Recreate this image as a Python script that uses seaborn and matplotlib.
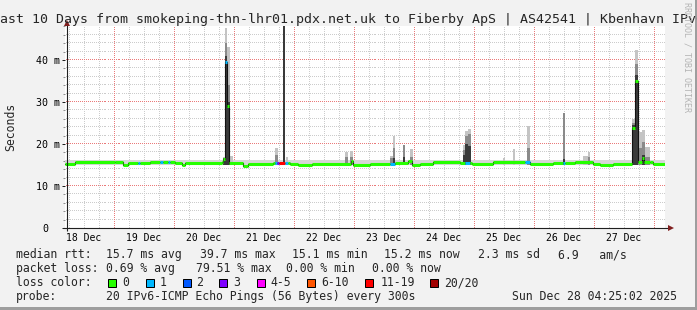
import numpy as np
import matplotlib
matplotlib.use("Agg")
import matplotlib.pyplot as plt
from matplotlib.ticker import MultipleLocator
from matplotlib.patches import Rectangle
from matplotlib.transforms import blended_transform_factory, ScaledTranslation
import seaborn as sns

# ---------------- data (time = hours since 18 Dec 00:00) ----------------
t_start = 4.417      # 18 Dec 04:25
t_end = 244.417      # 28 Dec 04:25
day_noon = [12, 36, 60, 84, 108, 132, 156, 180, 204, 228]
day_labels = ["18 Dec", "19 Dec", "20 Dec", "21 Dec", "22 Dec",
              "23 Dec", "24 Dec", "25 Dec", "26 Dec", "27 Dec"]

# median rtt (ms), step values starting at each time
median_t = [4.4, 8.4, 24.4, 27.6, 29.6, 38.4, 48.4, 51.2, 52.4, 67.2, 67.6,
            68.4, 69.4, 70.2, 75.6, 77.6, 87.6, 94.4, 97.6, 103.2, 118.8,
            119.6, 126.4, 136.4, 141.6, 143.2, 146.4, 151.6, 162.4, 167.2,
            175.6, 190.4, 199.6, 208.4, 215.6, 218.4, 223.6, 231.4, 232.4,
            233.6, 235.2, 236.2, 238.4, 239.6]
median_v = [15.2, 15.7, 15.6, 15.0, 15.5, 15.6, 15.4, 15.0, 15.4, 15.6, 16.4,
            39.5, 29.0, 15.4, 14.8, 15.3, 15.5, 15.3, 15.0, 15.3, 15.9,
            15.1, 15.3, 15.4, 16.0, 15.1, 15.2, 15.6, 15.4, 15.2,
            15.6, 15.2, 15.4, 15.7, 15.3, 15.0, 15.2, 23.8, 35.1,
            15.6, 16.6, 15.6, 15.8, 15.2]

# packet-loss runs (index into loss colours); everything else is 0
loss_t0 = [33.6, 42.4, 45.6, 68.4, 88.4, 89.4, 90.2, 92.6, 134.4, 164.4, 188.4, 203.6]
loss_t1 = [34.4, 43.6, 46.4, 69.4, 89.4, 90.2, 92.6, 93.6, 136.4, 166.4, 190.4, 204.4]
loss_lv = [1, 1, 1, 1, 1, 3, 6, 1, 1, 1, 1, 1]

# smoke (ping spread): baseline band and spikes
smoke_floor = 15.0
smoke_base_top = 16.2
spike_t0 = [67.6, 68.4, 69.4, 70.4, 88.4, 91.6, 92.8, 116.4, 118.4, 134.4,
            135.6, 139.6, 142.4, 163.6, 164.4, 165.6, 179.6, 183.6, 189.2,
            203.6, 211.6, 213.6, 231.4, 232.4, 233.6, 235.2, 236.4]
spike_t1 = [68.4, 69.4, 70.4, 71.6, 89.6, 92.6, 93.6, 117.6, 119.6, 135.6,
            136.6, 140.4, 143.6, 164.4, 165.6, 166.8, 180.4, 184.4, 190.4,
            204.4, 213.6, 214.4, 232.4, 233.6, 235.2, 236.4, 238.4]
spike_top = [17.0, 47.6, 43.0, 17.2, 19.0, 50.0, 16.8, 18.2, 18.4, 17.2,
             21.9, 19.8, 18.9, 19.8, 23.1, 23.6, 16.6, 18.8, 24.3,
             27.5, 17.1, 18.2, 26.0, 42.4, 22.9, 23.3, 19.4]
spike_mid = [0, 44.0, 34.0, 0, 17.5, 0, 0, 16.8, 17.0, 16.6,
             19.0, 19.8, 17.0, 18.5, 22.0, 22.5, 0, 0, 19.0,
             27.5, 0, 16.8, 25.0, 39.0, 19.0, 20.5, 17.0]
spike_core = [16.6, 41.0, 30.0, 0, 0, 50.0, 0, 0, 0, 0,
              16.6, 17.0, 0, 17.5, 20.0, 19.5, 0, 0, 0,
              16.5, 0, 0, 24.5, 36.5, 0, 17.5, 0]

loss_colors = ["#26ff00", "#00b8ff", "#0059ff", "#7e00ff",
               "#ff00ff", "#ff5500", "#ff0000", "#a10000"]
loss_names = ["0", "1", "2", "3", "4-5", "6-10", "11-19", "20/20"]

title = ("Last 10 Days from smokeping-thn-lhr01.pdx.net.uk to Fiberby ApS | "
         "AS42541 | Kbenhavn IPv6")
ytick_vals = [0, 10, 20, 30, 40]
ytick_text = ["0", "10 m", "20 m", "30 m", "40 m"]

row1 = ["median rtt:", "15.7 ms avg", "39.7 ms max", "15.1 ms min",
        "15.2 ms now", "2.3 ms sd", "6.9   am/s"]
row2 = ["packet loss:", "0.69 % avg", "79.51 % max", "0.00 % min", "0.00 % now"]
row4 = ["probe:", "20 IPv6-ICMP Echo Pings (56 Bytes) every 300s",
        "Sun Dec 28 04:25:02 2025"]

# ---------------- layout constants (pixels) ----------------
W, H = 697, 310
row1_x = [15.5, 106.5, 199.5, 292.5, 384.5, 478.5, 557.5]
row2_x = [15.5, 106.5, 196.5, 285.5, 371.5]
row4_x = [15.5, 106.5, 512.5]
sq_x = [108, 146, 183, 219, 257, 307, 365, 430]
lab_x = [122.5, 159.5, 196.5, 233.5, 270.5, 321.5, 380.5, 444.5]

sns.set_theme(style="white")
plt.rcParams["font.family"] = ["DejaVu Sans Mono", "DejaVu Sans"]

BG = "#f2f2f2"
fig = plt.figure(figsize=(W / 100, H / 100), dpi=100, facecolor=BG)
ax = fig.add_axes([65 / W, (H - 228) / H, 600 / W, 202 / H])
ax.set_facecolor("white")
ax.set_xlim(t_start, t_end)
y_top = 202 / 4.2
ax.set_ylim(0, y_top)
for s in ax.spines.values():
    s.set_visible(False)
ax.grid(False)

ax.yaxis.set_major_locator(MultipleLocator(10))
ax.yaxis.set_minor_locator(MultipleLocator(2))
ax.tick_params(axis="x", which="both", bottom=False, labelbottom=False)
ax.tick_params(axis="y", which="major", left=True, length=2.5, width=0.72,
               color="#1f1f1f", labelleft=False)
ax.tick_params(axis="y", which="minor", left=True, length=1.6, width=0.72,
               color="#8f8f8f")

# dotted grid (1 px on / 1 px off), drawn as single-pixel markers
px_h = 1 / 2.5      # hours per pixel
px_v = 1 / 4.2      # ms per pixel
dots_x = t_start + np.arange(0.5, 600, 2) * px_h
dots_y = np.arange(0.5, 202, 2) * px_v
GRID_MIN = "#cccccc"
GRID_MAJ = "#ea7a7a"
for hv in np.arange(6, t_end, 6):
    col = GRID_MAJ if hv % 24 == 0 else GRID_MIN
    ax.plot(np.full_like(dots_y, hv), dots_y, ",", color=col,
            zorder=0.6 if col == GRID_MAJ else 0.5)
for vv in np.arange(2, y_top, 2):
    col = GRID_MAJ if round(vv) % 10 == 0 else GRID_MIN
    ax.plot(dots_x, np.full_like(dots_x, vv), ",", color=col,
            zorder=0.6 if col == GRID_MAJ else 0.5)

# smoke
ax.fill_between([t_start, t_end], smoke_floor, smoke_base_top,
                color="#d6d6d6", lw=0, zorder=1)
t0 = np.array(spike_t0)
w = np.array(spike_t1) - t0
for vals, col, z in [(spike_top, "#c4c4c4", 2), (spike_mid, "#8a8a8a", 3),
                     (spike_core, "#3a3a3a", 4)]:
    v = np.array(vals)
    m = v > 0
    ax.bar(t0[m], v[m] - smoke_floor, width=w[m], bottom=smoke_floor,
           align="edge", color=col, lw=0, zorder=z)

# median: thin dark step line
mt = median_t + [t_end]
mv = median_v + [median_v[-1]]
sns.lineplot(x=mt, y=mv, drawstyle="steps-post", color="#111111",
             lw=0.8, ax=ax, estimator=None, sort=False, zorder=5)

# median coloured by loss
edges = sorted(set([t for t in median_t + loss_t0 + loss_t1 if t >= median_t[0]] + [t_end]))
seg_y, seg_a, seg_b, seg_c = [], [], [], []
for a, b in zip(edges[:-1], edges[1:]):
    i = np.searchsorted(median_t, a, side="right") - 1
    lv = 0
    for l0, l1, l in zip(loss_t0, loss_t1, loss_lv):
        if l0 <= a < l1:
            lv = l
    seg_y.append(median_v[i]); seg_a.append(a); seg_b.append(b)
    seg_c.append(loss_colors[lv])
ax.hlines(seg_y, seg_a, seg_b, colors=seg_c, lw=2.2, zorder=6)

# axis lines and arrows
AXC = "#1f1f1f"
ax.plot([-2 / 600, (669 - 65) / 600], [0, 0], transform=ax.transAxes,
        color=AXC, lw=0.8, clip_on=False, zorder=7, solid_capstyle="butt")
ax.plot([1.5 / 600, 1.5 / 600], [-3 / 202, (228 - 24) / 202], transform=ax.transAxes,
        color=AXC, lw=0.8, clip_on=False, zorder=7, solid_capstyle="butt")
ax.plot([(671 - 65) / 600], [0], marker=">", ms=4.5, mew=0, color="#801f1f",
        transform=ax.transAxes, clip_on=False, zorder=8)
ax.plot([1.5 / 600], [(228 - 22.5) / 202], marker="^", ms=4.5, mew=0, color="#801f1f",
        transform=ax.transAxes, clip_on=False, zorder=8)

# tick labels
ty = blended_transform_factory(ax.transAxes, ax.transData)
for v, s in zip(ytick_vals, ytick_text):
    dx = -16.5 if len(s) == 1 else -4.5
    off = ScaledTranslation(dx / 100, -3.8 / 100, fig.dpi_scale_trans)
    ax.text(0, v, s, transform=ty + off, ha="right", va="baseline",
            fontsize=7.2, color="black")
tx = blended_transform_factory(ax.transData, ax.transAxes)
offx = ScaledTranslation(0, -13 / 100, fig.dpi_scale_trans)
for h, s in zip(day_noon, day_labels):
    ax.text(h, 0, s, transform=tx + offx, ha="center", va="baseline",
            fontsize=7.0, color="black")

# title, y label, watermark
fig.text(0.5, 1 - 23 / H, title, ha="center", va="baseline", fontsize=9.5)
fig.text(11 / W, 1 - 127 / H, "Seconds", rotation=90, ha="center",
         va="center", fontsize=8.3)
fig.text(686.5 / W, 1 - 2 / H, "RRDTOOL / TOBI OETIKER", rotation=270,
         ha="center", va="top", fontsize=6, color="#b4b4b4")

# legend rows
LF = 8.3
for x, s in zip(row1_x, row1):
    fig.text(x / W, 1 - 258 / H, s, ha="left", va="baseline", fontsize=LF)
for x, s in zip(row2_x, row2):
    fig.text(x / W, 1 - 272 / H, s, ha="left", va="baseline", fontsize=LF)
fig.text(15.5 / W, 1 - 286 / H, "loss color:", ha="left", va="baseline", fontsize=LF)
for x, lx, c, n in zip(sq_x, lab_x, loss_colors, loss_names):
    fig.add_artist(Rectangle((x / W, 1 - 286.5 / H), 8 / W, 8 / H,
                             transform=fig.transFigure, fc=c, ec="black", lw=0.72))
    fig.text(lx / W, 1 - 286 / H, n, ha="left", va="baseline", fontsize=LF)
for x, s in zip(row4_x, row4):
    fig.text(x / W, 1 - 300 / H, s, ha="left", va="baseline", fontsize=LF)

# 3-D border shading
fig.add_artist(Rectangle((695 / W, 0), 2 / W, 1, transform=fig.transFigure,
                         fc="#9e9e9e", lw=0))
fig.add_artist(Rectangle((0, 0), 1, 3 / H, transform=fig.transFigure,
                         fc="#9e9e9e", lw=0))

fig.savefig("out.png", dpi=100, facecolor=BG)
